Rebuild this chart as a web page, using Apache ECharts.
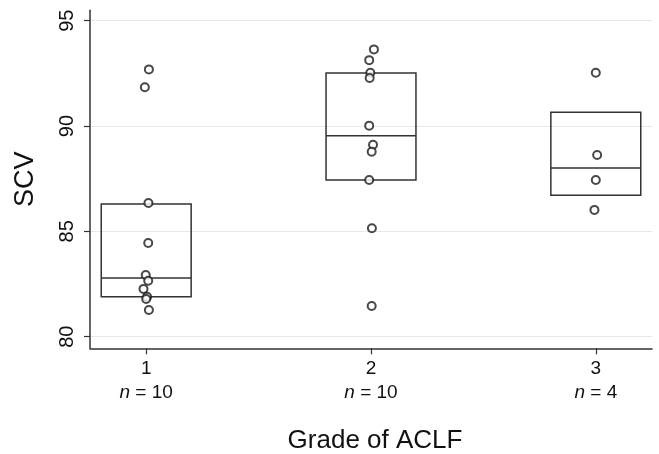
<!DOCTYPE html>
<html>
<head>
<meta charset="utf-8">
<script src="https://cdn.jsdelivr.net/npm/echarts@6/dist/echarts.min.js"></script>
<style>
html,body{margin:0;padding:0;background:#fff;}
#chart{width:659px;height:454px;}
</style>
</head>
<body>
<div id="chart"></div>
<script>
// ---- data ----
const categories = [1, 2, 3];
const counts = [10, 10, 4];
const yTicks = [80, 85, 90, 95];

const g1Values = [92.69, 91.84, 86.35, 84.45, 82.93, 82.66, 82.27, 81.90, 81.79, 81.27];
const g1Jitter = [0.012, -0.006, 0.010, 0.009, -0.002, 0.009, -0.012, 0.004, 0.000, 0.012];
const g2Values = [93.64, 93.13, 92.53, 92.28, 90.02, 89.11, 88.78, 87.44, 85.15, 81.46];
const g2Jitter = [0.013, -0.008, -0.003, -0.006, -0.008, 0.009, 0.003, -0.008, 0.004, 0.003];
const g3Values = [92.53, 88.63, 87.44, 86.02];
const g3Jitter = [0.000, 0.006, 0.000, -0.006];

const boxLow = [81.90, 87.44, 86.71];
const boxMedian = [82.79, 89.54, 88.01];
const boxHigh = [86.30, 92.52, 90.65];

// ---- build ----
const groups = [[g1Values, g1Jitter], [g2Values, g2Jitter], [g3Values, g3Jitter]];
const points = [];
groups.forEach(function (g, i) {
  g[0].forEach(function (v, j) { points.push([categories[i] + g[1][j], v]); });
});
const boxes = categories.map(function (c, i) { return [c, boxLow[i], boxMedian[i], boxHigh[i]]; });

const BOX_W = 0.4;
const FONT = '"Liberation Sans", Arial, Helvetica, sans-serif';
const AXIS_COLOR = '#333';

const chart = echarts.init(document.getElementById('chart'), null, {renderer: 'canvas'});
chart.setOption({
  animation: false,
  backgroundColor: '#fff',
  grid: [
    {left: 90, right: 7, top: 10.2, bottom: 105.7, outerBoundsMode: 'none', containLabel: false},
    {left: 90, right: 7, top: 20.7, bottom: 117.3, outerBoundsMode: 'none', containLabel: false}
  ],
  xAxis: [
    {
      gridIndex: 0, type: 'value', min: 0.75, max: 3.25,
      axisLine: {show: true, lineStyle: {color: AXIS_COLOR, width: 1.5}},
      axisTick: {show: true, length: 6, customValues: categories, lineStyle: {color: AXIS_COLOR, width: 1.2}},
      axisLabel: {
        show: true, customValues: categories, margin: 8,
        formatter: function (v) { return '{a|' + v + '}\n{i|n}{b| = ' + counts[categories.indexOf(v)] + '}'; },
        rich: {
          a: {fontFamily: FONT, fontSize: 19, color: '#111', lineHeight: 24},
          i: {fontFamily: FONT, fontSize: 19, fontStyle: 'italic', color: '#111', lineHeight: 24},
          b: {fontFamily: FONT, fontSize: 19, color: '#111', lineHeight: 24}
        }
      },
      splitLine: {show: false},
      name: 'Grade of ACLF', nameLocation: 'middle', nameGap: 80,
      nameTextStyle: {fontFamily: FONT, fontSize: 26, color: '#111', padding: [0, 0, 0, 8]}
    },
    {gridIndex: 1, type: 'value', min: 0.75, max: 3.25, show: false}
  ],
  yAxis: [
    {
      gridIndex: 0, type: 'value', min: 79.45, max: 95.5,
      axisLine: {show: true, lineStyle: {color: AXIS_COLOR, width: 1.5}},
      axisTick: {show: false}, axisLabel: {show: false}, splitLine: {show: false},
      name: 'SCV', nameLocation: 'middle', nameRotate: 90, nameGap: 51,
      nameTextStyle: {fontFamily: FONT, fontSize: 27, color: '#111'}
    },
    {
      gridIndex: 1, type: 'value', min: 80, max: 95, interval: 5,
      axisLine: {show: false},
      axisTick: {show: true, length: 6, lineStyle: {color: AXIS_COLOR, width: 1.2}},
      axisLabel: {show: true, rotate: 90, margin: 13, fontFamily: FONT, fontSize: 20, color: '#111'},
      splitLine: {show: true, lineStyle: {color: '#e8e8e8', width: 1}}
    }
  ],
  series: [
    {
      type: 'custom', xAxisIndex: 0, yAxisIndex: 0, data: boxes, z: 2,
      renderItem: function (params, api) {
        const x = api.value(0);
        const p1 = api.coord([x - BOX_W / 2, api.value(3)]);
        const p2 = api.coord([x + BOX_W / 2, api.value(1)]);
        const m1 = api.coord([x - BOX_W / 2, api.value(2)]);
        const m2 = api.coord([x + BOX_W / 2, api.value(2)]);
        return {
          type: 'group',
          children: [
            {type: 'rect', shape: {x: p1[0], y: p1[1], width: p2[0] - p1[0], height: p2[1] - p1[1]},
             style: {fill: 'none', stroke: '#333', lineWidth: 1.5}},
            {type: 'line', shape: {x1: m1[0], y1: m1[1], x2: m2[0], y2: m2[1]},
             style: {stroke: '#333', lineWidth: 1.5}}
          ]
        };
      }
    },
    {
      type: 'scatter', xAxisIndex: 0, yAxisIndex: 0, data: points, z: 3,
      symbol: 'emptyCircle', symbolSize: 8,
      itemStyle: {color: '#1a1a1a', borderColor: '#1a1a1a', borderWidth: 1.2}
    }
  ]
});
</script>
</body>
</html>
